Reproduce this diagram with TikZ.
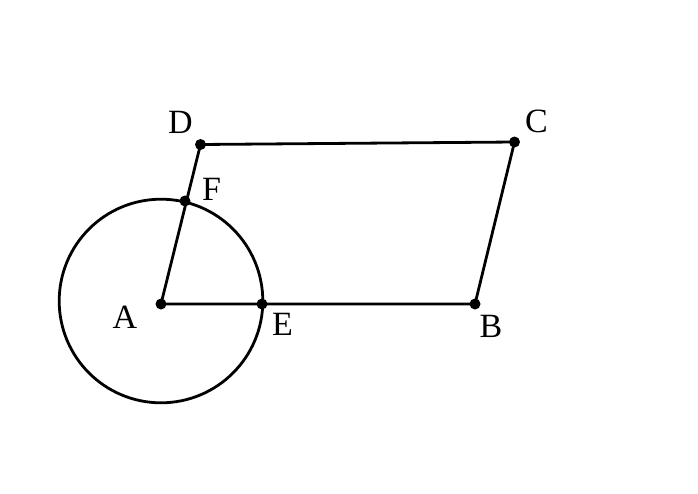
\documentclass[tikz,border=0pt]{standalone}
\usepackage{fontspec}
\setmainfont{Liberation Serif}
\begin{document}
\begin{tikzpicture}[x=1pt,y=-1pt,
  seg/.style={line width=2.8pt,line join=round},
  pt/.style={circle,fill=black,inner sep=0pt,minimum size=11pt},
  lbl/.style={inner sep=0pt,anchor=base,font=\fontsize{34}{40}\selectfont}]
\useasboundingbox (0,0) rectangle (698,493);
\coordinate (A) at (161,304);
\coordinate (O) at (161,301);
\coordinate (B) at (475,304);
\coordinate (C) at (514.5,142);
\coordinate (D) at (200.5,144.5);
\coordinate (E) at (262,304);
\coordinate (F) at (185,201);
\draw[seg] (O) circle[radius=101.8];
\draw[seg] (A) -- (B) -- (C) -- (D) -- cycle;
\foreach \p in {A,B,C,D,E,F} \node[pt] (dot\p) at (\p) {};
\node[lbl] (lA) at (125,328) {A};
\node[lbl] (lB) at (491,337) {B};
\node[lbl] (lC) at (536.5,132) {C};
\node[lbl] (lD) at (180.5,133) {D};
\node[lbl] (lE) at (282.5,335) {E};
\node[lbl] (lF) at (211.5,200) {F};
\end{tikzpicture}
\end{document}
